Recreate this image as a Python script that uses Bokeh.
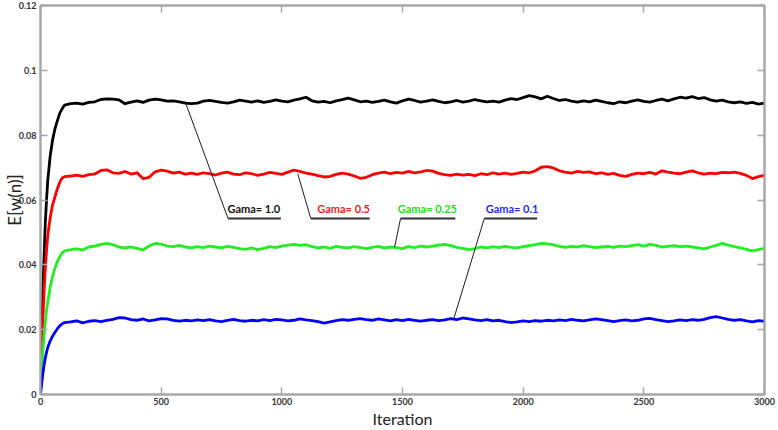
from bokeh.plotting import figure
from bokeh.models import Range1d, LinearAxis, FixedTicker
from bokeh.core.properties import value
from bokeh.embed import file_html
from bokeh.resources import INLINE

# ---------------- data ----------------
iterations = [0, 5, 10, 15, 20, 25, 30, 40, 50, 60, 70, 80, 90, 100] + list(range(125, 3001, 25))

gama_1_0 = [
    0.0, 0.0175, 0.032, 0.043, 0.053, 0.060, 0.066, 0.0735, 0.0785, 0.0820, 0.0845, 0.0868, 0.0882, 0.0893,
    0.0897, 0.0899, 0.0896, 0.0901, 0.0903, 0.0910, 0.0912, 0.0911, 0.0909, 0.0897,
    0.0902, 0.0906, 0.0901, 0.0908, 0.0911, 0.0909, 0.0905, 0.0906, 0.0903, 0.0899,
    0.0897, 0.0899, 0.0905, 0.0907, 0.0904, 0.0901, 0.0899, 0.0903, 0.0908, 0.0905,
    0.0902, 0.0906, 0.0901, 0.0904, 0.0909, 0.0905, 0.0903, 0.0908, 0.0912, 0.0917,
    0.0906, 0.0902, 0.0904, 0.0900, 0.0906, 0.0910, 0.0914, 0.0909, 0.0903, 0.0905,
    0.0901, 0.0904, 0.0908, 0.0903, 0.0899, 0.0906, 0.0911, 0.0907, 0.0902, 0.0905,
    0.0909, 0.0904, 0.0900, 0.0903, 0.0907, 0.0902, 0.0905, 0.0910, 0.0906, 0.0903,
    0.0905, 0.0902, 0.0908, 0.0913, 0.0910, 0.0916, 0.0922, 0.0918, 0.0912, 0.0920,
    0.0913, 0.0907, 0.0910, 0.0905, 0.0902, 0.0906, 0.0903, 0.0908, 0.0904, 0.0900,
    0.0897, 0.0903, 0.0900, 0.0905, 0.0909, 0.0904, 0.0902, 0.0907, 0.0911, 0.0906,
    0.0912, 0.0917, 0.0914, 0.0919, 0.0913, 0.0916, 0.0909, 0.0905, 0.0908, 0.0903,
    0.0900, 0.0903, 0.0898, 0.0901, 0.0896, 0.0899,
]

gama_0_5 = [
    0.0, 0.0125, 0.0235, 0.032, 0.039, 0.0445, 0.049, 0.0545, 0.0585, 0.0610, 0.0635, 0.0655, 0.0668, 0.0672,
    0.0674, 0.0677, 0.0673, 0.0678, 0.0680, 0.0691, 0.0693, 0.0684, 0.0682, 0.0688,
    0.0680, 0.0684, 0.0666, 0.0670, 0.0687, 0.0692, 0.0689, 0.0683, 0.0686, 0.0680,
    0.0683, 0.0679, 0.0684, 0.0681, 0.0677, 0.0683, 0.0686, 0.0680, 0.0678, 0.0684,
    0.0681, 0.0676, 0.0680, 0.0685, 0.0682, 0.0679, 0.0686, 0.0692, 0.0688, 0.0683,
    0.0680, 0.0675, 0.0671, 0.0673, 0.0679, 0.0683, 0.0680, 0.0674, 0.0667, 0.0670,
    0.0678, 0.0683, 0.0686, 0.0681, 0.0685, 0.0683, 0.0688, 0.0684, 0.0687, 0.0691,
    0.0689, 0.0682, 0.0678, 0.0676, 0.0680, 0.0677, 0.0679, 0.0675, 0.0681, 0.0678,
    0.0684, 0.0680, 0.0683, 0.0679, 0.0682, 0.0686, 0.0684, 0.0690, 0.0701, 0.0703,
    0.0699, 0.0690, 0.0686, 0.0683, 0.0688, 0.0685, 0.0687, 0.0681, 0.0684, 0.0679,
    0.0682, 0.0676, 0.0673, 0.0679, 0.0683, 0.0681, 0.0685, 0.0680, 0.0690, 0.0686,
    0.0683, 0.0681, 0.0686, 0.0690, 0.0684, 0.0680, 0.0683, 0.0681, 0.0685, 0.0684,
    0.0686, 0.0682, 0.0676, 0.0666, 0.0672, 0.0676,
]

gama_0_25 = [
    0.0, 0.0075, 0.0135, 0.0185, 0.0225, 0.026, 0.0285, 0.0330, 0.0365, 0.0390, 0.0410, 0.0425, 0.0437, 0.0443,
    0.0447, 0.0449, 0.0446, 0.0455, 0.0458, 0.0463, 0.0466, 0.0462, 0.0455, 0.0452,
    0.0455, 0.0451, 0.0446, 0.0458, 0.0466, 0.0464, 0.0458, 0.0456, 0.0460, 0.0455,
    0.0452, 0.0456, 0.0453, 0.0458, 0.0455, 0.0452, 0.0457, 0.0454, 0.0450, 0.0448,
    0.0452, 0.0447, 0.0451, 0.0456, 0.0453, 0.0458, 0.0461, 0.0463, 0.0460, 0.0462,
    0.0456, 0.0452, 0.0455, 0.0451, 0.0457, 0.0454, 0.0452, 0.0456, 0.0453, 0.0450,
    0.0454, 0.0457, 0.0452, 0.0455, 0.0453, 0.0450, 0.0456, 0.0453, 0.0458, 0.0455,
    0.0458, 0.0461, 0.0463, 0.0459, 0.0454, 0.0451, 0.0447, 0.0450, 0.0455, 0.0452,
    0.0456, 0.0453, 0.0457, 0.0454, 0.0452, 0.0456, 0.0459, 0.0462, 0.0466, 0.0465,
    0.0462, 0.0457, 0.0454, 0.0457, 0.0455, 0.0459, 0.0456, 0.0453, 0.0455, 0.0457,
    0.0454, 0.0458, 0.0456, 0.0459, 0.0462, 0.0458, 0.0463, 0.0460, 0.0455, 0.0457,
    0.0459, 0.0456, 0.0458, 0.0455, 0.0452, 0.0449, 0.0455, 0.0460, 0.0466, 0.0461,
    0.0456, 0.0452, 0.0448, 0.0443, 0.0447, 0.0451,
]

gama_0_1 = [
    0.0, 0.0035, 0.0065, 0.0092, 0.0113, 0.0130, 0.0145, 0.0165, 0.0180, 0.0192, 0.0203, 0.0212, 0.0218, 0.0222,
    0.0224, 0.0227, 0.0221, 0.0226, 0.0228, 0.0225, 0.0229, 0.0232, 0.0237, 0.0236,
    0.0231, 0.0229, 0.0233, 0.0227, 0.0230, 0.0234, 0.0233, 0.0229, 0.0226, 0.0229,
    0.0227, 0.0230, 0.0228, 0.0231, 0.0227, 0.0225, 0.0229, 0.0232, 0.0228, 0.0226,
    0.0229, 0.0227, 0.0231, 0.0228, 0.0232, 0.0230, 0.0227, 0.0229, 0.0233, 0.0230,
    0.0228, 0.0225, 0.0220, 0.0224, 0.0228, 0.0231, 0.0229, 0.0232, 0.0234, 0.0231,
    0.0229, 0.0233, 0.0230, 0.0227, 0.0231, 0.0228, 0.0232, 0.0229, 0.0226, 0.0229,
    0.0231, 0.0228, 0.0230, 0.0234, 0.0231, 0.0236, 0.0233, 0.0230, 0.0228, 0.0231,
    0.0227, 0.0229, 0.0225, 0.0222, 0.0224, 0.0227, 0.0225, 0.0228, 0.0226, 0.0229,
    0.0227, 0.0230, 0.0228, 0.0232, 0.0229, 0.0227, 0.0230, 0.0233, 0.0231, 0.0228,
    0.0225, 0.0228, 0.0230, 0.0227, 0.0229, 0.0233, 0.0235, 0.0231, 0.0228, 0.0225,
    0.0227, 0.0230, 0.0228, 0.0231, 0.0229, 0.0232, 0.0237, 0.0240, 0.0236, 0.0232,
    0.0229, 0.0231, 0.0227, 0.0224, 0.0228, 0.0226,
]

series_values = [gama_1_0, gama_0_5, gama_0_25, gama_0_1]
series_colors = ["#000000", "#ff0000", "#22ee22", "#0000ff"]

x_ticks = [0, 500, 1000, 1500, 2000, 2500, 3000]
y_ticks = [0, 0.02, 0.04, 0.06, 0.08, 0.1, 0.12]
y_tick_labels = ["0", "0.02", "0.04", "0.06", "0.08", "0.1", "0.12"]

x_title = "Iteration"
y_title = "E[w(n)]"

annot_text = ["Gama= 1.0", "Gama= 0.5", "Gama= 0.25", "Gama= 0.1"]
annot_color = ["#111111", "#ff1a1a", "#22e022", "#2828ff"]
anchor_x = [599, 1066, 1467, 1711]
anchor_y = [0.0904, 0.0681, 0.0454, 0.0230]
elbow_x = [777, 1120, 1492, 1839]
elbow_y = [0.0543, 0.0543, 0.0543, 0.0543]
end_x = [996, 1364, 1719, 2058]
text_x = [884, 1256, 1603, 1954]
text_y = [0.0574, 0.0574, 0.0574, 0.0574]

for s in series_values:
    assert len(s) == len(iterations), (len(s), len(iterations))

# ---------------- figure ----------------
FRAME = "#a8a8a8"
p = figure(width=778, height=430, x_range=Range1d(0, 3000), y_range=Range1d(0, 0.12),
           output_backend="svg", toolbar_location=None,
           min_border_left=37, min_border_right=14, min_border_top=5, min_border_bottom=34)
p.grid.visible = False
p.outline_line_color = FRAME
p.outline_line_width = 2
p.background_fill_color = "white"
p.border_fill_color = "white"

FONT = "Lato"

xa = p.xaxis[0]
xa.ticker = FixedTicker(ticks=x_ticks)
ya = p.yaxis[0]
ya.ticker = FixedTicker(ticks=y_ticks)
ya.major_label_overrides = {t: l for t, l in zip(y_ticks, y_tick_labels)}
for ax in (xa, ya):
    ax.axis_line_color = FRAME
    ax.axis_line_width = 2
    ax.major_tick_in = 7
    ax.major_tick_out = 0
    ax.major_tick_line_color = FRAME
    ax.major_tick_line_width = 1.5
    ax.minor_tick_line_color = None
    ax.major_label_text_font = FONT
    ax.major_label_text_font_style = "bold"
    ax.major_label_text_font_size = "9px"
    ax.major_label_text_color = "#333333"
    ax.axis_label_text_font = FONT
    ax.axis_label_text_font_style = "normal"
    ax.axis_label_text_color = "#222222"
xa.axis_label = x_title
xa.axis_label_text_font_size = "16px"
xa.major_label_standoff = 3
xa.axis_label_standoff = 1
ya.axis_label = y_title
ya.axis_label_text_font_size = "17px"
ya.major_label_standoff = 4
ya.axis_label_standoff = -9

for side, ticks in (("right", y_ticks), ("above", x_ticks)):
    ax = LinearAxis(ticker=FixedTicker(ticks=ticks))
    ax.major_label_overrides = {t: "" for t in ticks}
    ax.major_label_text_font_size = "0px"
    ax.major_label_standoff = 0
    ax.axis_label_standoff = 0
    ax.axis_line_color = FRAME
    ax.axis_line_width = 2
    ax.major_tick_in = 7
    ax.major_tick_out = 0
    ax.major_tick_line_color = FRAME
    ax.major_tick_line_width = 1.5
    ax.minor_tick_line_color = None
    p.add_layout(ax, side)

for vals, col in zip(series_values, series_colors):
    p.line(iterations, vals, line_color=col, line_width=2.8, line_join="round")

# leader lines and underlines
p.segment(x0=anchor_x, y0=anchor_y, x1=elbow_x, y1=elbow_y, line_color="#1a1a1a", line_width=1)
p.segment(x0=elbow_x, y0=elbow_y, x1=end_x, y1=elbow_y, line_color="#333333", line_width=2)

p.text(x=text_x, y=text_y, text=annot_text, text_color=annot_color,
       text_font=value(FONT), text_font_style="bold", text_font_size="11px",
       text_align="center", text_baseline="middle")

open("out.html", "w").write(file_html(p, INLINE))
